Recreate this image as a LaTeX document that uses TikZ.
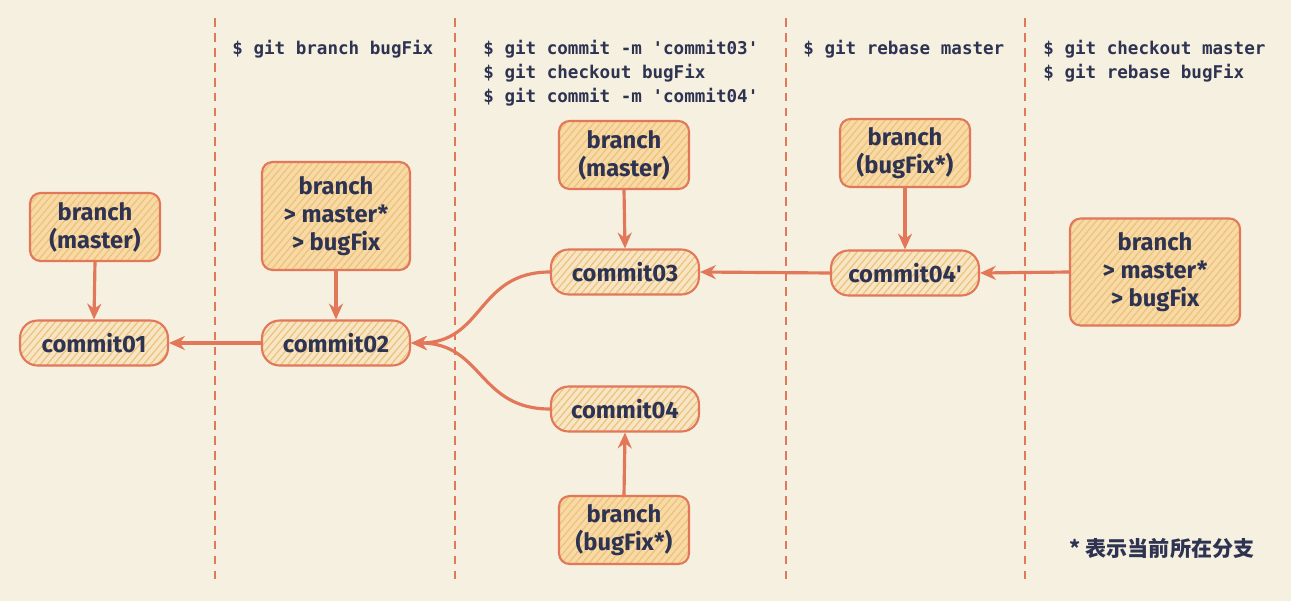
\documentclass[tikz,border=0pt]{standalone}
\usepackage{fontspec}
\setmainfont{Fira Sans}
\newfontfamily\cmdfont[Ligatures=ResetAll]{DejaVu Sans Mono}
\newfontfamily\cjk{Noto Sans CJK SC}
\usetikzlibrary{arrows.meta,patterns.meta,positioning}

\definecolor{paper}{HTML}{F5F0DF}
\definecolor{coral}{HTML}{E27759}
\definecolor{ink}{HTML}{2E3352}
\definecolor{boxfill}{HTML}{F7DAA6}
\definecolor{pillfill}{HTML}{F6E6C6}
\definecolor{hatch}{HTML}{EFC27A}

\tikzset{
  branchbox/.style={draw=coral, line width=1.2pt, rounded corners=6pt, align=center,
    preaction={fill=boxfill}, pattern={Lines[angle=50,distance=3pt,line width=0.7pt]},
    pattern color=hatch, minimum width=2.6cm, minimum height=1.36cm, text=ink,
    font=\bfseries\fontsize{13.5}{16}\selectfont},
  commitbox/.style={branchbox, rounded corners=10pt, preaction={fill=pillfill},
    minimum width=2.96cm, minimum height=0.9cm},
  link/.style={draw=coral, line width=1.8pt, -{Stealth[length=9pt,width=8pt]}},
  divider/.style={draw=coral, line width=1.2pt, dash pattern=on 5pt off 3.5pt},
  cmd/.style={anchor=north west, inner sep=0pt, align=left, text=ink,
    font=\cmdfont\bfseries\fontsize{10}{13.6}\selectfont}
}

\begin{document}
\begin{tikzpicture}[x=0.02cm, y=-0.02cm]
  \fill[paper] (0,0) rectangle (1291,601);
  \useasboundingbox (0,0) rectangle (1291,601);
  \foreach \x in {215,455,786,1025}
    \draw[divider] (\x,18) -- (\x,582);

  % commands
  \node[cmd] (k2) at (232,40) {\$ git branch bugFix};
  \node[cmd] (k3) at (483,40) {\$ git commit -m 'commit03'\\\$ git checkout bugFix\\\$ git commit -m 'commit04'};
  \node[cmd] (k4) at (803,40) {\$ git rebase master};
  \node[cmd] (k5) at (1043,40) {\$ git checkout master\\\$ git rebase bugFix};

  % branches and commits
  \node[branchbox] (m1) at (95,227) {branch\\(master)};
  \node[commitbox] (c1) at (94,343) {commit01};
  \node[branchbox, minimum width=2.96cm, minimum height=2.16cm] (b2) at (336,216)
    {branch\\> master*\\> bugFix};
  \node[commitbox] (c2) at (336,343) {commit02};
  \node[branchbox] (m3) at (624,155) {branch\\(master)};
  \node[commitbox] (c3) at (625,272) {commit03};
  \node[commitbox] (c4) at (625,409) {commit04};
  \node[branchbox] (f4) at (624,530) {branch\\(bugFix*)};
  \node[branchbox] (f5) at (905,153) {branch\\(bugFix*)};
  \node[commitbox] (c5) at (905,273) {commit04\textquotesingle};
  \node[branchbox, minimum width=3.4cm, minimum height=2.14cm] (b6) at (1155,272)
    {branch\\> master*\\> bugFix};

  \draw[link] (m1.south) -- (c1.north);
  \draw[link] (c2.west) -- (c1.east);
  \draw[link] (b2.south) -- (c2.north);
  \draw[link] (c3.west) to[out=180, in=0, looseness=1.2] (c2.east);
  \draw[link] (c4.west) to[out=180, in=0, looseness=1.2] (c2.east);
  \draw[link] (m3.south) -- (c3.north);
  \draw[link] (f4.north) -- (c4.south);
  \draw[link] (c5.west) -- (c3.east);
  \draw[link] (f5.south) -- (c5.north);
  \draw[link] (b6.west) -- (c5.east);

  \node[text=ink, font=\cjk\bfseries\fontsize{12}{15}\selectfont] (note) at (1162,549)
    {* 表示当前所在分支};
\end{tikzpicture}
\end{document}
